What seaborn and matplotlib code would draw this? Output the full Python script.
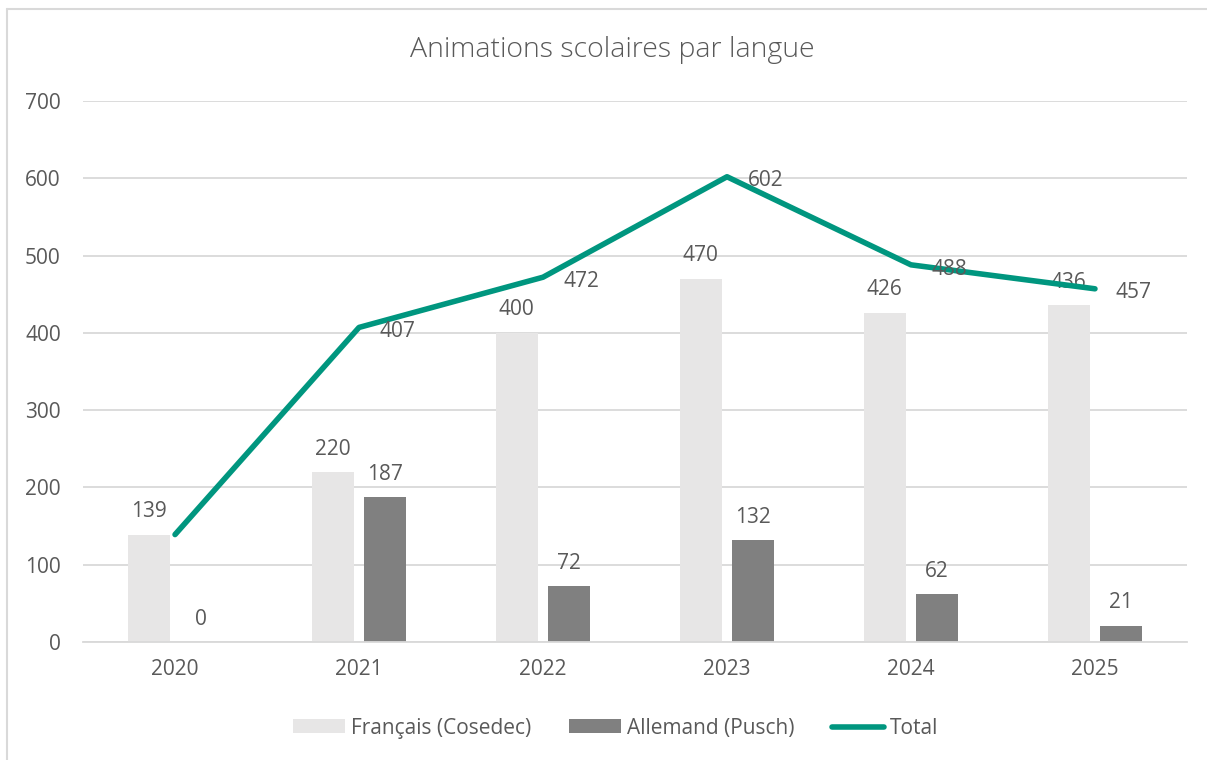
import numpy as np
import pandas as pd
import matplotlib
matplotlib.use("Agg")
import matplotlib.pyplot as plt
from matplotlib.lines import Line2D
from matplotlib.patches import Patch
import seaborn as sns

years = ["2020", "2021", "2022", "2023", "2024", "2025"]
francais = [139, 220, 400, 470, 426, 436]
allemand = [0, 187, 72, 132, 62, 21]
total = [139, 407, 472, 602, 488, 457]
series_names = ["Français (Cosedec)", "Allemand (Pusch)", "Total"]
title = "Animations scolaires par langue"

C_FR = "#E7E6E6"
C_DE = "#808080"
C_TOT = "#00967F"
TXT = "#595959"
GRID = "#D9D9D9"

sns.set_theme(style="white")
plt.rcParams["font.family"] = ["Open Sans", "DejaVu Sans"]

df = pd.DataFrame({
    "year": years * 2,
    "value": francais + allemand,
    "serie": [series_names[0]] * len(years) + [series_names[1]] * len(years),
})

FS = 15

fig = plt.figure(figsize=(12.07, 7.6), dpi=100)
ax = fig.add_axes([0.0688, 0.1553, 0.9146, 0.7118])

sns.barplot(data=df, x="year", y="value", hue="serie", order=years,
            hue_order=series_names[:2], palette=[C_FR, C_DE],
            width=0.57, gap=0.2, saturation=1, ax=ax, legend=False,
            linewidth=0, errorbar=None)

xs = np.arange(len(years))
sns.lineplot(x=xs, y=total, color=C_TOT, lw=4.0, ax=ax, legend=False,
             solid_capstyle="round", solid_joinstyle="round", zorder=5)

ax.set_xlim(-0.5, len(years) - 0.5)
ax.set_ylim(0, 700)
ax.set_yticks(np.arange(0, 701, 100))
ax.yaxis.grid(True, color=GRID, lw=1.3)
ax.set_axisbelow(True)
for s in ["top", "right", "left"]:
    ax.spines[s].set_visible(False)
ax.spines["bottom"].set_color(GRID)
ax.spines["bottom"].set_linewidth(1.3)
ax.tick_params(axis="both", length=0, labelsize=FS, labelcolor=TXT)
ax.tick_params(axis="y", pad=16)
ax.tick_params(axis="x", pad=12)
ax.set_xlabel("")
ax.set_ylabel("")

off = 0.1425
for i in range(len(years)):
    ax.annotate(str(francais[i]), (i - off, francais[i]), xytext=(0, 16.5),
                textcoords="offset points", ha="center", va="center",
                fontsize=FS, color=TXT)
    ax.annotate(str(allemand[i]), (i + off, allemand[i]), xytext=(0, 16.5),
                textcoords="offset points", ha="center", va="center",
                fontsize=FS, color=TXT)
    if i > 0:  # the 2020 total label is hidden behind the bar label in the reference
        ax.annotate(str(total[i]), (i, total[i]), xytext=(15, -3),
                    textcoords="offset points", ha="left", va="center",
                    fontsize=FS, color=TXT, zorder=6)

fig.text(0.507, 0.934, title, ha="center", va="center", fontsize=20.5,
         color=TXT, fontweight="light")

handles = [Patch(facecolor=C_FR, edgecolor="none"),
           Patch(facecolor=C_DE, edgecolor="none"),
           Line2D([0], [0], color=C_TOT, lw=4.0, solid_capstyle="round")]
fig.legend(handles, series_names, loc="center", bbox_to_anchor=(0.51, 0.042),
           ncol=3, frameon=False, fontsize=FS, labelcolor=TXT,
           handlelength=2.5, handleheight=0.62, handletextpad=0.28,
           columnspacing=1.8)

# chart area border (top and left edges visible)
fig.add_artist(Line2D([7 / 1207, 7 / 1207], [0, 1 - 9 / 760], color=GRID, lw=1.5,
                      transform=fig.transFigure))
fig.add_artist(Line2D([7 / 1207, 1], [1 - 9 / 760, 1 - 9 / 760], color=GRID, lw=1.5,
                      transform=fig.transFigure))

fig.savefig("out.png", dpi=100, facecolor="white")
